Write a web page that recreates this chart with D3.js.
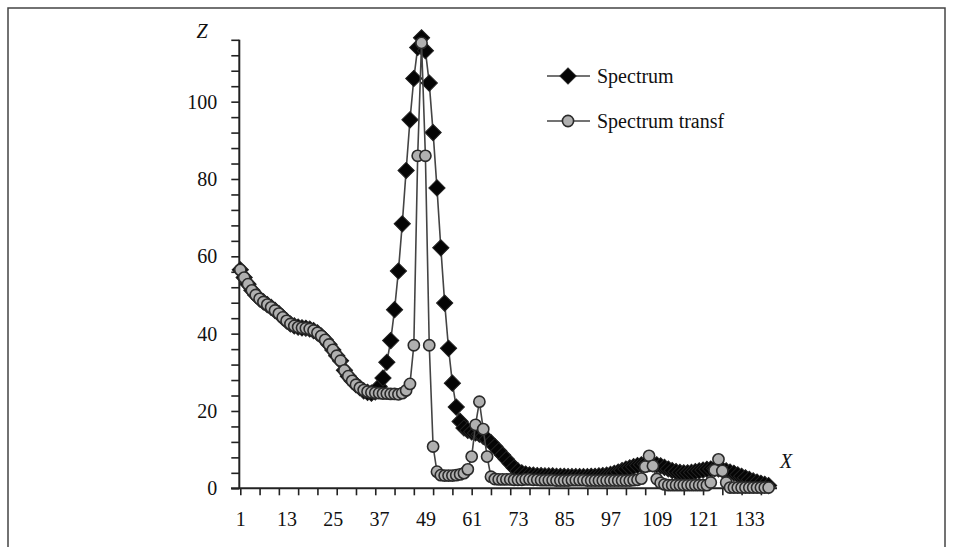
<!DOCTYPE html>
<html>
<head>
<meta charset="utf-8">
<script src="https://cdn.jsdelivr.net/npm/d3@7"></script>
<style>
  body { margin: 0; background: #fff; }
  svg { display: block; }
  text { font-family: "Liberation Serif", "Times New Roman", serif; fill: #111; }
</style>
</head>
<body>
<div id="chart"></div>
<script>
// values, one per category (X = 1..138)
var spectrum = [
  56.5, 54.5, 52.8, 51.2, 50.0, 49.0, 48.2, 47.5, 46.8, 46.0,
  45.2, 44.2, 43.3, 42.5, 42.0, 41.7, 41.5, 41.4, 41.2, 40.8,
  40.2, 39.4, 38.4, 37.2, 35.8, 34.3, 33.0, 30.5, 29.0, 27.8,
  26.8, 26.0, 25.2, 24.8, 24.6, 24.9, 26.3, 28.5, 32.6, 38.2,
  46.2, 56.2, 68.4, 82.2, 95.3, 106.0, 114.0, 116.5, 113.2, 104.8,
  92.0, 77.7, 62.2, 47.9, 36.2, 27.2, 21.0, 17.3, 15.6, 15.0,
  14.6, 14.3, 14.0, 13.4, 12.7, 11.8, 10.8, 9.7, 8.6, 7.5,
  6.4, 5.3, 4.5, 4.0, 3.7, 3.5, 3.4, 3.3, 3.3, 3.2,
  3.2, 3.2, 3.1, 3.1, 3.1, 3.0, 3.0, 3.0, 3.0, 3.0,
  3.0, 3.1, 3.1, 3.2, 3.3, 3.4, 3.6, 3.9, 4.2, 4.6,
  5.0, 5.3, 5.6, 5.9, 6.1, 6.3, 6.4, 6.3, 6.1, 5.8,
  5.4, 5.0, 4.6, 4.3, 4.1, 4.0, 4.0, 4.1, 4.3, 4.5,
  4.7, 4.9, 5.0, 5.1, 5.0, 4.8, 4.5, 4.2, 3.9, 3.5,
  3.1, 2.7, 2.3, 1.9, 1.6, 1.3, 1.0, 0.7
];

var spectrumTransf = [
  56.5, 54.5, 52.8, 51.2, 50.0, 49.0, 48.2, 47.5, 46.8, 46.0,
  45.2, 44.2, 43.3, 42.5, 42.0, 41.7, 41.5, 41.4, 41.2, 40.8,
  40.2, 39.4, 38.4, 37.2, 35.8, 34.3, 33.0, 30.5, 29.0, 27.8,
  26.8, 26.0, 25.4, 25.0, 24.8, 24.7, 24.6, 24.5, 24.5, 24.4,
  24.4, 24.3, 24.6, 25.3, 27.0, 37.0, 86.0, 115.2, 86.0, 37.0,
  10.8, 4.3, 3.4, 3.3, 3.3, 3.3, 3.4, 3.6, 3.9, 4.9,
  8.2, 16.4, 22.4, 15.3, 8.2, 3.0, 2.4, 2.3, 2.3, 2.3,
  2.3, 2.2, 2.2, 2.2, 2.3, 2.3, 2.2, 2.2, 2.1, 2.1,
  2.1, 2.1, 2.0, 2.0, 2.0, 2.0, 2.1, 2.1, 2.1, 2.1,
  2.0, 2.0, 2.0, 2.0, 2.0, 2.0, 2.0, 2.0, 2.0, 2.0,
  2.0, 2.0, 2.1, 2.2, 2.5, 5.6, 8.4, 5.8, 2.4, 1.4,
  1.0, 0.8, 0.8, 0.8, 0.8, 0.8, 0.8, 0.8, 0.8, 0.8,
  0.8, 0.8, 1.5, 4.7, 7.5, 4.5, 1.5, 0.2, 0.2, 0.2,
  0.2, 0.2, 0.2, 0.2, 0.2, 0.2, 0.2, 0.2
];

var categories = d3.range(1, spectrum.length + 1);
var xLabels = [1, 13, 25, 37, 49, 61, 73, 85, 97, 109, 121, 133];
var yLabels = [0, 20, 40, 60, 80, 100];
var seriesNames = ["Spectrum", "Spectrum transf"];

var width = 953, height = 547;
var font = "'Liberation Serif', 'Times New Roman', serif";

var svg = d3.select("#chart").append("svg")
    .attr("width", width)
    .attr("height", height);

// outer frame (bottom edge falls outside the picture)
svg.append("rect")
    .attr("x", 8).attr("y", 8)
    .attr("width", 937).attr("height", 560)
    .attr("fill", "none")
    .attr("stroke", "#444")
    .attr("stroke-width", 1.5);

var x = d3.scaleLinear().domain([1, 138]).range([240.3, 768.6]);
var y = d3.scaleLinear().domain([0, 116]).range([488.3, 39.8]);

// y axis: small ticks every 4, labels every 20
var yAxis = svg.append("g")
    .attr("transform", "translate(239.3,0)")
    .call(d3.axisLeft(y).tickValues(d3.range(0, 117, 4)).tickSize(8).tickFormat(""));
yAxis.select(".domain").remove();
yAxis.selectAll("line").attr("stroke", "#222").attr("stroke-width", 1.6);

svg.append("g")
    .attr("transform", "translate(239.3,0)")
    .call(d3.axisLeft(y).tickValues(yLabels).tickSize(0).tickPadding(22))
    .call(function(g) { g.select(".domain").remove(); })
    .selectAll("text")
    .style("font-size", "20px")
    .style("font-family", font)
    .attr("fill", "#111");

// x axis: ticks every 5 categories, labels every 12
var xAxis = svg.append("g")
    .attr("transform", "translate(0,488.3)")
    .call(d3.axisBottom(x).tickValues(d3.range(1, 140, 5)).tickSize(7).tickFormat(""));
xAxis.select(".domain").remove();
xAxis.selectAll("line").attr("stroke", "#222").attr("stroke-width", 1.6);

svg.append("g")
    .attr("transform", "translate(0,488.3)")
    .call(d3.axisBottom(x).tickValues(xLabels).tickSize(0).tickPadding(24))
    .call(function(g) { g.select(".domain").remove(); })
    .selectAll("text")
    .style("font-size", "20px")
    .style("font-family", font)
    .attr("fill", "#111");

// axis lines
svg.append("line")
    .attr("x1", 239.3).attr("x2", 239.3)
    .attr("y1", y(116)).attr("y2", y(0))
    .attr("stroke", "#222").attr("stroke-width", 2);
svg.append("line")
    .attr("x1", 231).attr("x2", 777)
    .attr("y1", y(0)).attr("y2", y(0))
    .attr("stroke", "#222").attr("stroke-width", 2);

// axis names
svg.append("text")
    .attr("x", 202).attr("y", 38)
    .attr("text-anchor", "middle")
    .style("font-size", "20px").style("font-style", "italic")
    .text("Z");
svg.append("text")
    .attr("x", 786).attr("y", 468)
    .attr("text-anchor", "middle")
    .style("font-size", "20px").style("font-style", "italic")
    .text("X");

var line = d3.line()
    .x(function(d, i) { return x(categories[i]); })
    .y(function(d) { return y(d); });

var diamond = d3.symbol().type(d3.symbolSquare).size(132);

function drawDiamond(sel) {
  sel.append("path")
      .attr("d", diamond)
      .attr("fill", "#050505")
      .attr("stroke", "#222")
      .attr("stroke-width", 1);
}

function drawCircle(sel) {
  sel.append("circle")
      .attr("r", 5.6)
      .attr("fill", "#b0b0b0")
      .attr("stroke", "#2a2a2a")
      .attr("stroke-width", 1.6);
}

// Spectrum
svg.append("path")
    .datum(spectrum)
    .attr("d", line)
    .attr("fill", "none")
    .attr("stroke", "#444")
    .attr("stroke-width", 1.6);

svg.append("g").selectAll("g")
    .data(spectrum)
  .enter().append("g")
    .attr("transform", function(d, i) {
      return "translate(" + x(categories[i]) + "," + y(d) + ") rotate(45)";
    })
    .call(drawDiamond);

// Spectrum transf (drawn on top)
svg.append("path")
    .datum(spectrumTransf)
    .attr("d", line)
    .attr("fill", "none")
    .attr("stroke", "#444")
    .attr("stroke-width", 1.6);

svg.append("g").selectAll("g")
    .data(spectrumTransf)
  .enter().append("g")
    .attr("transform", function(d, i) {
      return "translate(" + x(categories[i]) + "," + y(d) + ")";
    })
    .call(drawCircle);

// legend
var legend = svg.append("g").selectAll("g")
    .data(seriesNames)
  .enter().append("g")
    .attr("transform", function(d, i) { return "translate(0," + (76 + i * 45) + ")"; });

legend.append("line")
    .attr("x1", 547).attr("x2", 590)
    .attr("stroke", "#444")
    .attr("stroke-width", 1.6);

legend.each(function(d, i) {
  var g = d3.select(this).append("g").attr("transform", "translate(568,0)" + (i === 0 ? " rotate(45)" : ""));
  if (i === 0) drawDiamond(g); else drawCircle(g);
});

legend.append("text")
    .attr("x", 597)
    .attr("y", 7)
    .style("font-size", "20px")
    .text(function(d) { return d; });
</script>
</body>
</html>
